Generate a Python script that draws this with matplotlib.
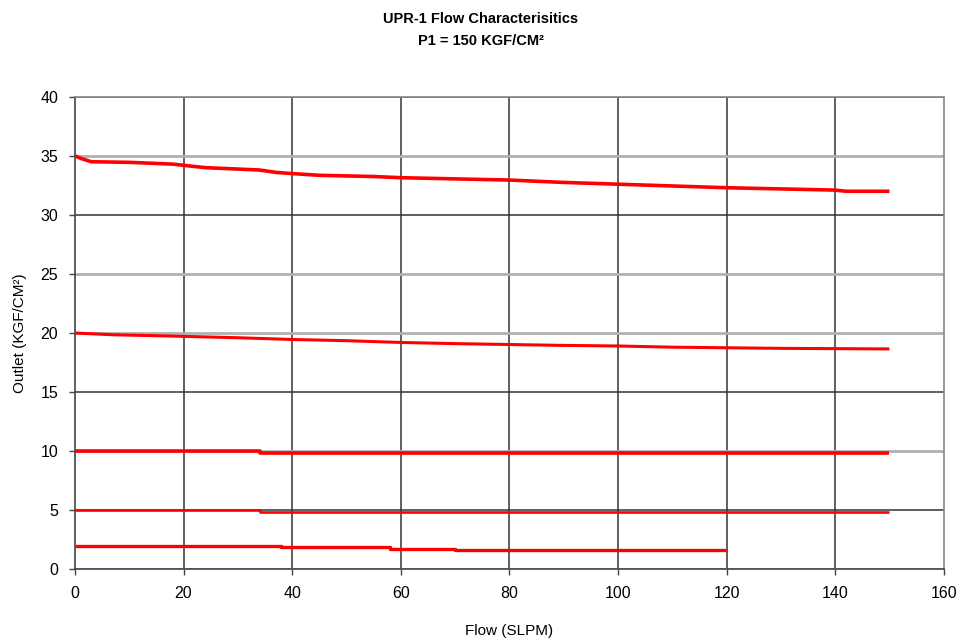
import matplotlib
matplotlib.use("Agg")
import matplotlib.pyplot as plt

plt.rcParams['font.family'] = ['Liberation Sans', 'DejaVu Sans']

title = "UPR-1 Flow Characterisitics\nP1 = 150 KGF/CM²"
xlabel = "Flow (SLPM)"
ylabel = "Outlet (KGF/CM²)"

# Series (flow SLPM, outlet KGF/CM2)
flow_35 = [0, 1, 3, 10, 18, 20, 24, 34, 37, 40, 45, 55, 60, 75, 80, 90, 100, 110, 120, 130, 140, 142, 150]
out_35 = [35.0, 34.8, 34.5, 34.45, 34.3, 34.2, 34.0, 33.8, 33.6, 33.5, 33.35, 33.25, 33.15, 33.0, 32.95, 32.75, 32.6, 32.45, 32.3, 32.2, 32.1, 32.0, 32.0]

flow_20 = [0, 7, 17, 30, 40, 50, 60, 70, 90, 100, 110, 130, 150]
out_20 = [20.0, 19.85, 19.75, 19.6, 19.45, 19.35, 19.2, 19.1, 18.95, 18.9, 18.8, 18.7, 18.65]

flow_10 = [0, 34, 34, 150]
out_10 = [10.0, 10.0, 9.85, 9.85]

flow_5 = [0, 34, 34, 150]
out_5 = [5.0, 5.0, 4.85, 4.85]

flow_2 = [0, 3, 3, 38, 38, 58, 58, 70, 70, 86, 86, 120]
out_2 = [2.0, 2.0, 1.93, 1.93, 1.85, 1.85, 1.75, 1.75, 1.65, 1.65, 1.6, 1.6]

xticks = [0, 20, 40, 60, 80, 100, 120, 140, 160]
yticks = [0, 5, 10, 15, 20, 25, 30, 35, 40]

fig = plt.figure(figsize=(9.61, 6.41), dpi=100)
ax = fig.add_axes([0.078, 0.112, 0.904, 0.737])
ax.set_xlim(0, 160)
ax.set_ylim(0, 40)

# grid lines
for x in xticks[1:-1]:
    ax.axvline(x, color='#444444', lw=1.2, zorder=1)
dark = {30, 40, 15, 5}
for y in yticks:
    if y in dark:
        ax.axhline(y, color='#333333', lw=1.1, zorder=1)
    else:
        ax.axhline(y, color='#b0b0b0', lw=2.0, zorder=1)

series = [(flow_35, out_35, 2.6), (flow_20, out_20, 2.2), (flow_10, out_10, 2.6),
          (flow_5, out_5, 1.9), (flow_2, out_2, 2.4)]
for fx, fy, lw in series:
    ax.plot(fx, fy, color='#ff0000', lw=lw, solid_capstyle='butt', zorder=3)

for s in ['left', 'bottom']:
    ax.spines[s].set_color('#444444')
    ax.spines[s].set_linewidth(1.2)
for s in ['top', 'right']:
    ax.spines[s].set_color('#888888')
    ax.spines[s].set_linewidth(1.2)

ax.set_xticks(xticks)
ax.set_yticks(yticks)
ax.tick_params(direction='out', length=4, width=1, color='#444444', labelsize=11.5, pad=8)
ax.set_xlabel(xlabel, fontsize=11, labelpad=17)
ax.set_ylabel(ylabel, fontsize=11, labelpad=10)
fig.text(0.5, 0.953, title, ha='center', va='center', fontsize=10.5, fontweight='bold', linespacing=1.75)

fig.savefig("out.png", dpi=100)
